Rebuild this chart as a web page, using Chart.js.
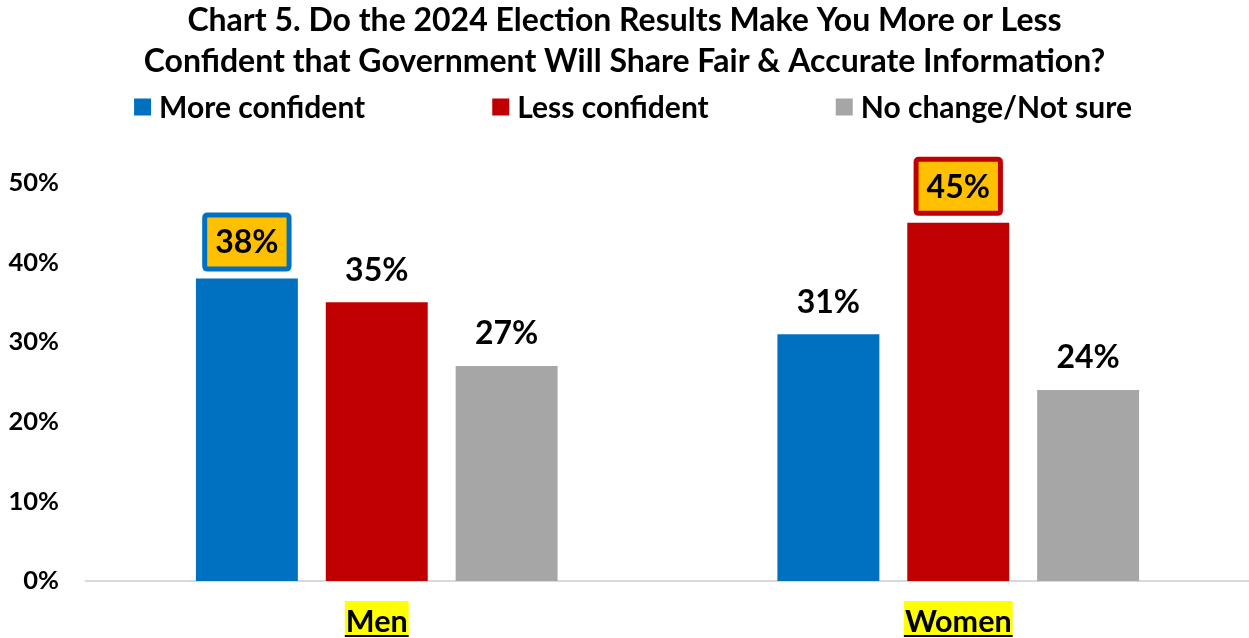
<!DOCTYPE html>
<html>
<head>
<meta charset="utf-8">
<script src="https://cdn.jsdelivr.net/npm/chart.js@4/dist/chart.umd.min.js"></script>
<style>
  html, body { margin: 0; padding: 0; background: #ffffff; }
  canvas { display: block; }
</style>
</head>
<body>
<canvas id="chart" width="1249" height="638"></canvas>
<script>
// ---- data ----
const categories = ['Men', 'Women'];
const seriesNames = ['More confident', 'Less confident', 'No change/Not sure'];
const moreConfident = [38, 31];
const lessConfident = [35, 45];
const noChange = [27, 24];
const yTickValues = [0, 10, 20, 30, 40, 50];
const titleLines = [
  'Chart 5. Do the 2024 Election Results Make You More or Less',
  'Confident that Government Will Share Fair & Accurate Information?'
];

// ---- styling ----
const FONT = 'Lato, "Open Sans", sans-serif';
const COLORS = ['#0070C0', '#C00000', '#A6A6A6'];
const CALLOUT_FILL = '#FFC000';
const CATEGORY_HIGHLIGHT = '#FFFF00';

const seriesValues = [moreConfident, lessConfident, noChange];

// the largest value in each category gets a boxed callout
function isCallout(di, ci) {
  const vals = seriesValues.map(s => s[ci]);
  return seriesValues[di][ci] === Math.max(...vals);
}

function roundRectPath(ctx, x, y, w, h, r) {
  ctx.beginPath();
  ctx.moveTo(x + r, y);
  ctx.lineTo(x + w - r, y);
  ctx.quadraticCurveTo(x + w, y, x + w, y + r);
  ctx.lineTo(x + w, y + h - r);
  ctx.quadraticCurveTo(x + w, y + h, x + w - r, y + h);
  ctx.lineTo(x + r, y + h);
  ctx.quadraticCurveTo(x, y + h, x, y + h - r);
  ctx.lineTo(x, y + r);
  ctx.quadraticCurveTo(x, y, x + r, y);
  ctx.closePath();
}

// value labels above bars
const valueLabels = {
  id: 'valueLabels',
  afterDatasetsDraw(chart) {
    const ctx = chart.ctx;
    chart.data.datasets.forEach((ds, di) => {
      const meta = chart.getDatasetMeta(di);
      meta.data.forEach((bar, ci) => {
        const text = ds.data[ci] + '%';
        ctx.save();
        ctx.font = 'bold 32px ' + FONT;
        ctx.textAlign = 'center';
        ctx.textBaseline = 'middle';
        let cy = bar.y - 32;
        if (isCallout(di, ci)) {
          const tw = ctx.measureText(text).width;
          const w = tw + 26, h = 59;
          const bottom = bar.y - 7;
          const lw = 5;
          roundRectPath(ctx, bar.x - w / 2 + lw / 2, bottom - h + lw / 2, w - lw, h - lw, 3);
          ctx.fillStyle = CALLOUT_FILL;
          ctx.fill();
          ctx.lineWidth = lw;
          ctx.strokeStyle = COLORS[di];
          ctx.stroke();
          cy = bottom - h / 2 + 1;
        }
        ctx.fillStyle = '#000000';
        ctx.fillText(text, bar.x, cy);
        ctx.restore();
      });
    });
  }
};

// highlighted, underlined category names under the axis
const categoryLabels = {
  id: 'categoryLabels',
  afterDraw(chart) {
    const ctx = chart.ctx;
    const xs = chart.scales.x;
    ctx.save();
    ctx.font = 'bold 30.5px ' + FONT;
    ctx.textAlign = 'center';
    ctx.textBaseline = 'alphabetic';
    categories.forEach((name, i) => {
      const x = xs.getPixelForValue(i);
      const tw = ctx.measureText(name).width;
      const top = 601, h = 36;
      ctx.fillStyle = CATEGORY_HIGHLIGHT;
      ctx.fillRect(x - tw / 2 - 1, top, tw + 2, h);
      ctx.fillStyle = '#000000';
      ctx.fillText(name, x, 632);
      ctx.fillRect(x - tw / 2 - 1, 635, tw + 2, 2);
    });
    ctx.restore();
  }
};

// single-row legend with wide gaps, drawn between title and plot
const seriesLegend = {
  id: 'seriesLegend',
  afterDraw(chart) {
    const ctx = chart.ctx;
    const box = 17, textGap = 8, itemGap = 127, cy = 107, centerX = 633;
    ctx.save();
    ctx.font = 'bold 30px ' + FONT;
    ctx.textBaseline = 'middle';
    ctx.textAlign = 'left';
    const widths = seriesNames.map(n => box + textGap + ctx.measureText(n).width);
    const total = widths.reduce((a, b) => a + b, 0) + itemGap * (seriesNames.length - 1);
    let x = centerX - total / 2;
    seriesNames.forEach((name, i) => {
      ctx.fillStyle = COLORS[i];
      ctx.fillRect(x, cy - box / 2, box, box);
      ctx.fillStyle = '#000000';
      ctx.fillText(name, x + box + textGap, cy + 1);
      x += widths[i] + itemGap;
    });
    ctx.restore();
  }
};

new Chart(document.getElementById('chart'), {
  type: 'bar',
  data: {
    labels: categories,
    datasets: seriesNames.map((name, i) => ({
      label: name,
      data: seriesValues[i],
      backgroundColor: COLORS[i],
      borderWidth: 0,
      categoryPercentage: 0.67,
      barPercentage: 0.785
    }))
  },
  options: {
    responsive: false,
    animation: false,
    layout: { padding: { left: 0, right: 0, top: 0, bottom: 57 } },
    plugins: {
      title: {
        display: true,
        text: titleLines,
        color: '#000000',
        font: { family: FONT, size: 32, weight: 'bold', lineHeight: 1.28 },
        padding: { top: 0, bottom: 101 }
      },
      legend: { display: false },
      tooltip: { enabled: false }
    },
    scales: {
      x: {
        grid: { display: false, drawTicks: false },
        border: { display: true, color: '#D9D9D9', width: 2 },
        ticks: { display: false }
      },
      y: {
        min: 0,
        max: 50,
        afterBuildTicks(scale) {
          scale.ticks = yTickValues.map(v => ({ value: v }));
        },
        afterFit(scale) {
          scale.width = 86;
        },
        grid: { display: false, drawTicks: false },
        border: { display: false },
        ticks: {
          color: '#000000',
          font: { family: FONT, size: 25.5, weight: 'bold' },
          padding: 27,
          callback: v => v + '%'
        }
      }
    }
  },
  plugins: [valueLabels, categoryLabels, seriesLegend]
});
</script>
</body>
</html>
